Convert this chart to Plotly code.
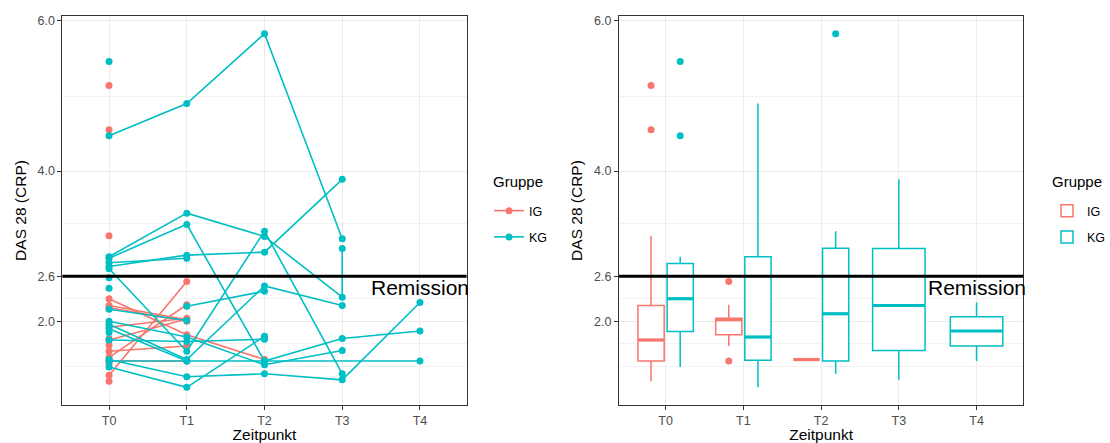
import numpy as np
import plotly.graph_objects as go

# ---------------- data ----------------
ZEITPUNKTE = ["T0", "T1", "T2", "T3", "T4"]
GRUPPEN = ["IG", "KG"]
FARBEN = {"IG": "#F8766D", "KG": "#00BFC4"}
Y_BREAKS = [2.0, 2.6, 4.0, 6.0]
REMISSION = 2.6

patient = [
    "I01", "I01", "I02", "I02", "I03", "I03", "I03", "I04", "I04", "I05", "I05",
    "I06", "I06", "I07", "I07", "I08", "I08", "I09", "I09",
    "I10", "I11", "I12", "I13", "I14", "I15", "I16", "I17",
    "K01", "K01", "K01", "K01",
    "K02", "K02", "K02", "K02", "K02",
    "K03", "K03", "K03", "K03", "K03",
    "K04", "K04", "K04", "K04",
    "K05", "K05", "K05", "K05",
    "K06", "K06", "K06", "K06", "K06",
    "K07", "K07", "K07",
    "K08", "K08", "K08", "K08",
    "K09", "K09",
    "K10", "K10", "K10", "K10",
    "K11", "K11",
    "K12", "K12", "K12",
    "K13", "K13", "K13", "K13",
    "K14", "K14",
    "K15", "K15",
    "K16", "K17", "K18", "K19",
]
gruppe = ["IG"] * 27 + ["KG"] * 60
zeitpunkt = [
    "T0", "T1", "T0", "T1", "T0", "T1", "T2", "T0", "T1", "T0", "T1",
    "T0", "T1", "T0", "T1", "T0", "T1", "T0", "T1",
    "T0", "T0", "T0", "T0", "T0", "T0", "T0", "T0",
    "T0", "T1", "T2", "T3",
    "T0", "T1", "T2", "T3", "T3",
    "T0", "T1", "T2", "T3", "T4",
    "T0", "T1", "T2", "T3",
    "T0", "T1", "T2", "T3",
    "T0", "T1", "T2", "T3", "T4",
    "T0", "T1", "T2",
    "T0", "T1", "T2", "T4",
    "T1", "T2",
    "T0", "T1", "T2", "T3",
    "T0", "T1",
    "T0", "T1", "T2",
    "T0", "T1", "T2", "T3",
    "T0", "T1",
    "T0", "T1",
    "T0", "T0", "T0", "T0",
]
das28 = [
    1.28, 2.53, 1.52, 2.22, 2.30, 1.82, 1.49, 2.21, 2.02, 2.18, 2.00,
    1.92, 2.04, 1.60, 1.67, 1.47, 1.47, 1.75, 2.03,
    1.20, 1.43, 1.46, 1.68, 1.77, 3.14, 4.55, 5.14,
    4.47, 4.90, 5.83, 3.10,
    2.86, 3.44, 3.13, 2.32, 2.97,
    2.84, 3.29, 1.47, 1.77, 1.87,
    2.73, 2.88, 2.92, 3.89,
    2.70, 1.60, 3.20, 1.30,
    1.49, 1.26, 1.30, 1.22, 2.25,
    1.39, 1.12, 1.80,
    1.47, 1.47, 1.47, 1.47,
    2.20, 2.40,
    1.96, 1.49, 2.47, 2.21,
    2.78, 2.84,
    1.75, 1.73, 1.76,
    2.00, 1.79, 1.42, 1.61,
    2.16, 2.01,
    1.90, 1.47,
    5.46, 2.58, 2.44, 1.85,
]

# ---------------- helpers ----------------
FONT = "Liberation Sans, Arial, sans-serif"
xi = {z: i for i, z in enumerate(ZEITPUNKTE)}
vals = np.array(das28)
span = vals.max() - vals.min()
Y_RANGE = [vals.min() - 0.05 * span, vals.max() + 0.05 * span]

# minor breaks as ggplot computes them (midpoints, extended by one interval below)
b = list(Y_BREAKS)
b = [b[0] - (b[1] - b[0])] + b
minor = []
for a, c in zip(b[:-1], b[1:]):
    minor += [a, (a + c) / 2]
minor = [m for m in minor if m not in Y_BREAKS and Y_RANGE[0] <= m <= Y_RANGE[1]]

fig = go.Figure()

# ---------------- left panel: spaghetti ----------------
for g in GRUPPEN:
    xs, ys = [], []
    seen = []
    for p, gg in zip(patient, gruppe):
        if gg == g and p not in seen:
            seen.append(p)
    for p in seen:
        recs = [(xi[z], v) for pp, z, v in zip(patient, zeitpunkt, das28) if pp == p]
        recs = sorted(recs, key=lambda r: r[0])  # stable: ties keep data order
        xs += [r[0] for r in recs] + [None]
        ys += [r[1] for r in recs] + [None]
    fig.add_trace(go.Scatter(
        x=xs, y=ys, mode="lines+markers", name=g,
        line=dict(color=FARBEN[g], width=1.6),
        marker=dict(color=FARBEN[g], size=7),
        xaxis="x", yaxis="y", legend="legend", legendgroup="L" + g,
        connectgaps=False,
    ))

# ---------------- right panel: boxplots ----------------
def box_stats(v):
    v = np.sort(np.asarray(v, dtype=float))
    q1, med, q3 = np.percentile(v, [25, 50, 75])
    iqr = q3 - q1
    lo_f, hi_f = q1 - 1.5 * iqr, q3 + 1.5 * iqr
    inside = v[(v >= lo_f) & (v <= hi_f)]
    out = v[(v < lo_f) | (v > hi_f)]
    return q1, med, q3, inside.min(), inside.max(), out

BOX_WIDTH = 0.75
PADDING = 0.1
shown = set()
for z in ZEITPUNKTE:
    present = [g for g in GRUPPEN
               if any(gg == g and zz == z for gg, zz in zip(gruppe, zeitpunkt))]
    n = len(present)
    w = BOX_WIDTH / n
    for k, g in enumerate(present):
        v = [d for gg, zz, d in zip(gruppe, zeitpunkt, das28) if gg == g and zz == z]
        q1, med, q3, lo, hi, out = box_stats(v)
        center = xi[z] - BOX_WIDTH / 2 + w * (k + 0.5)
        bw = w * (1 - PADDING)
        fig.add_trace(go.Box(
            x=[center], q1=[q1], median=[med], q3=[q3],
            lowerfence=[lo], upperfence=[hi],
            width=bw, whiskerwidth=0, boxpoints=False,
            fillcolor="white", line=dict(color=FARBEN[g], width=1.5),
            name=g, legend="legend2", legendgroup="B" + g,
            showlegend=g not in shown, xaxis="x2", yaxis="y2",
            hoverinfo="skip",
        ))
        shown.add(g)
        fig.add_trace(go.Scatter(
            x=[center - bw / 2, center + bw / 2], y=[med, med], mode="lines",
            line=dict(color=FARBEN[g], width=3.2), showlegend=False,
            xaxis="x2", yaxis="y2", hoverinfo="skip",
        ))
        if len(out):
            fig.add_trace(go.Scatter(
                x=[center] * len(out), y=list(out), mode="markers",
                marker=dict(color=FARBEN[g], size=7), showlegend=False,
                xaxis="x2", yaxis="y2", hoverinfo="skip",
            ))

# ---------------- layout ----------------
def xaxis(domain, anchor):
    return dict(
        domain=domain, anchor=anchor, range=[-0.6, 4.6], automargin=False,
        tickmode="array", tickvals=list(range(len(ZEITPUNKTE))), ticktext=ZEITPUNKTE,
        showgrid=True, gridcolor="#EBEBEB", gridwidth=1.1, zeroline=False,
        showline=True, linecolor="#333333", linewidth=1.1, mirror=True,
        ticks="outside", ticklen=4, tickwidth=1.1, tickcolor="#333333",
        tickfont=dict(family=FONT, size=12.5, color="#4D4D4D"),
        title=dict(text="Zeitpunkt", font=dict(family=FONT, size=15.5, color="black"), standoff=8),
    )

def yaxis(anchor):
    return dict(
        anchor=anchor, domain=[0, 1], range=Y_RANGE, automargin=False,
        tickmode="array", tickvals=Y_BREAKS, ticktext=[f"{t:.1f}" for t in Y_BREAKS],
        showgrid=True, gridcolor="#EBEBEB", gridwidth=1.1, zeroline=False,
        minor=dict(tickmode="array", tickvals=minor, showgrid=True,
                   gridcolor="#F2F2F2", gridwidth=0.8, ticks=""),
        showline=True, linecolor="#333333", linewidth=1.1, mirror=True,
        ticks="outside", ticklen=4, tickwidth=1.1, tickcolor="#333333",
        tickfont=dict(family=FONT, size=12.5, color="#4D4D4D"),
        title=dict(text="DAS 28 (CRP)", font=dict(family=FONT, size=15.5, color="black"), standoff=7),
    )

LEFT = [62.4 / 1110, 466.6 / 1110]
RIGHT = [619.0 / 1110, 1023.2 / 1110]
PLOT_TOP, PLOT_BOTTOM = 16, 405


def paper_y(px):
    return (PLOT_BOTTOM - px) / (PLOT_BOTTOM - PLOT_TOP)


legend_common = dict(
    yanchor="top", y=paper_y(196), xanchor="left",
    bgcolor="rgba(0,0,0,0)", borderwidth=0,
    font=dict(family=FONT, size=12.5, color="black"),
    tracegroupgap=7, itemwidth=30,
)

fig.update_layout(
    width=1110, height=443,
    margin=dict(l=0, r=0, t=PLOT_TOP, b=443 - PLOT_BOTTOM, autoexpand=False),
    paper_bgcolor="white", plot_bgcolor="white",
    font=dict(family=FONT),
    boxmode="overlay",
    xaxis=xaxis(LEFT, "y"), yaxis=yaxis("x"),
    xaxis2=xaxis(RIGHT, "y2"), yaxis2=yaxis("x2"),
    legend=dict(x=489 / 1110, **legend_common),
    legend2=dict(x=1047 / 1110, **legend_common),
    showlegend=True,
)

# legend titles
for lx in [491, 1050]:
    fig.add_annotation(x=lx / 1110, y=paper_y(181), xref="paper", yref="paper",
                       text="Gruppe", showarrow=False, xanchor="left", yanchor="middle",
                       font=dict(family=FONT, size=15, color="black"))

for xr, yr in [("x", "y"), ("x2", "y2")]:
    fig.add_shape(type="line", xref=f"{xr} domain", yref=yr, x0=0, x1=1,
                  y0=REMISSION, y1=REMISSION, line=dict(color="black", width=3), layer="above")
    fig.add_annotation(x=xi["T4"], y=2.45, xref=xr, yref=yr, text="Remission",
                       showarrow=False, xanchor="center", yanchor="middle",
                       font=dict(family=FONT, size=21, color="black"))

fig.write_html("out.html")
